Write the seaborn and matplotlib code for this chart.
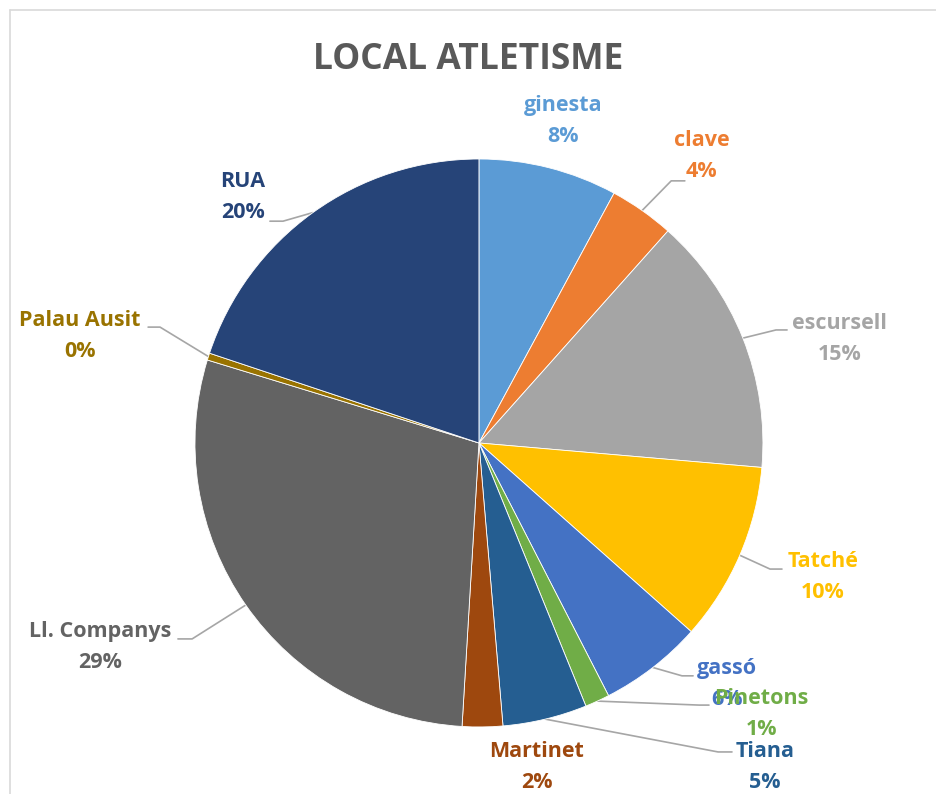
import numpy as np
import matplotlib
matplotlib.use("Agg")
import matplotlib.pyplot as plt
import seaborn as sns
from matplotlib.lines import Line2D

sns.set_style("white")
plt.rcParams["font.family"] = ["Open Sans", "DejaVu Sans"]

# data (percent shares, clockwise from the top)
locals_ = ["ginesta", "clave", "escursell", "Tatché", "gassó", "Pinetons",
           "Tiana", "Martinet", "Ll. Companys", "Palau Ausit", "RUA"]
shares = [7.9, 3.7, 14.8, 10.2, 5.9, 1.4, 4.8, 2.3, 28.8, 0.4, 19.9]
colors = ["#5B9BD5", "#ED7D31", "#A5A5A5", "#FFC000", "#4472C4", "#70AD47",
          "#255E91", "#9E480E", "#636363", "#997300", "#264478"]

# label layout in pie-radius units: text centre, and leader elbow/end (None = no leader)
label_pos = [(0.296, 1.134), (0.785, 1.011), (1.271, 0.366), (1.211, -0.472),
             (0.873, -0.849), (0.996, -0.954), (1.007, -1.141), (0.204, -1.141),
             (-1.335, -0.718), (-1.405, 0.377), (-0.831, 0.866)]
leaders = [None,
           ((0.677, 0.923), (0.725, 0.923)),
           ((1.046, 0.398), (1.085, 0.398)),
           ((1.025, -0.444), (1.067, -0.444)),
           ((0.715, -0.820), (0.754, -0.820)),
           ((0.775, -0.923), (0.810, -0.923)),
           ((0.842, -1.088), (0.891, -1.088)),
           None,
           ((-1.010, -0.690), (-1.060, -0.690)),
           ((-1.123, 0.408), (-1.165, 0.408)),
           ((-0.690, 0.781), (-0.736, 0.781))]

fig = plt.figure(figsize=(9.36, 7.94), dpi=100)
ax = fig.add_axes([0.2083, 0.0844, 0.6068, 0.7154])

wedges, _ = ax.pie(shares, colors=colors, startangle=90, counterclock=False,
                   wedgeprops=dict(edgecolor="white", linewidth=0.6))
ax.set_xlim(-1, 1)
ax.set_ylim(-1, 1)
ax.set_aspect("equal")
ax.axis("off")

total = sum(shares)
for w, name, v, c, pos, ld in zip(wedges, locals_, shares, colors, label_pos, leaders):
    ax.text(pos[0], pos[1], f"{name}\n{v / total * 100:.0f}%", color=c,
            fontsize=15.5, fontweight="bold", ha="center", va="center",
            linespacing=1.62, clip_on=False)
    if ld is not None:
        mid = np.deg2rad((w.theta1 + w.theta2) / 2)
        edge = (np.cos(mid), np.sin(mid))
        xs = [edge[0], ld[0][0], ld[1][0]]
        ys = [edge[1], ld[0][1], ld[1][1]]
        ax.plot(xs, ys, color="#A6A6A6", lw=1.2, clip_on=False, zorder=0.5)

fig.text(0.5, 0.925, "LOCAL ATLETISME", ha="center", va="center",
         fontsize=25.5, fontweight="bold", color="#595959")

# chart frame (cropped at right and bottom)
fig.add_artist(Line2D([10 / 936, 10 / 936], [0, 1 - 10 / 794],
                      transform=fig.transFigure, color="#D9D9D9", lw=1.2))
fig.add_artist(Line2D([10 / 936, 1], [1 - 10 / 794, 1 - 10 / 794],
                      transform=fig.transFigure, color="#D9D9D9", lw=1.2))

fig.savefig("out.png", dpi=100)
